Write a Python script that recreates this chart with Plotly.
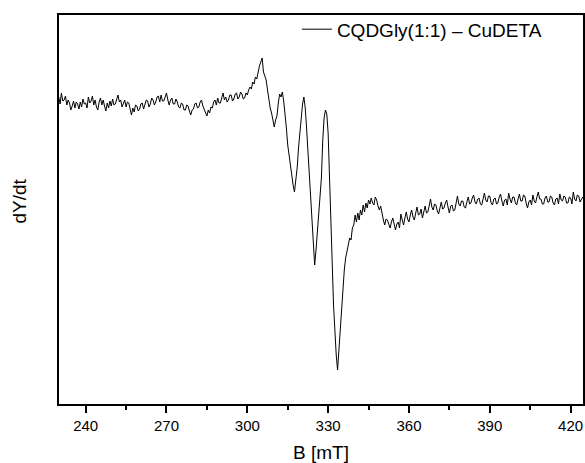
import plotly.graph_objects as go

# EPR spectrum, CQDGly(1:1) - CuDETA; field in mT, signal in arbitrary units
b_low = [230.0, 230.5, 231.0, 231.5, 232.0, 232.5, 233.0, 233.5, 234.0, 234.5,
         235.0, 235.5, 236.0, 236.5, 237.0, 237.5, 238.0, 238.5, 239.0, 239.5,
         240.0, 240.5, 241.0, 241.5, 242.0, 242.5, 243.0, 243.5, 244.0, 244.5,
         245.0, 245.5, 246.0, 246.5, 247.0, 247.5, 248.0, 248.5, 249.0, 249.5,
         250.0, 250.5, 251.0, 251.5, 252.0, 252.5, 253.0, 253.5, 254.0, 254.5,
         255.0, 255.5, 256.0, 256.5, 257.0, 257.5, 258.0, 258.5, 259.0, 259.5,
         260.0, 260.5, 261.0, 261.5, 262.0, 262.5, 263.0, 263.5, 264.0, 264.5,
         265.0, 265.5, 266.0, 266.5, 267.0, 267.5, 268.0, 268.5, 269.0, 269.5,
         270.0, 270.5, 271.0, 271.5, 272.0, 272.5, 273.0, 273.5, 274.0, 274.5,
         275.0, 275.5, 276.0, 276.5, 277.0, 277.5, 278.0, 278.5, 279.0, 279.5,
         280.0, 280.5, 281.0, 281.5, 282.0, 282.5, 283.0, 283.5, 284.0, 284.5,
         285.0, 285.5, 286.0, 286.5, 287.0, 287.5, 288.0, 288.5, 289.0, 289.5,
         290.0, 290.5, 291.0, 291.5, 292.0, 292.5, 293.0, 293.5, 294.0, 294.5,
         295.0, 295.5, 296.0, 296.5, 297.0, 297.5, 298.0, 298.5, 299.0, 299.5]
s_low = [303, 296, 307, 299, 300, 304, 295, 300, 297, 290,
         294, 299, 292, 298, 296, 291, 298, 293, 301, 296,
         297, 292, 303, 297, 299, 304, 295, 300, 293, 290,
         298, 302, 295, 300, 294, 289, 297, 292, 299, 294,
         301, 295, 296, 300, 305, 298, 300, 293, 296, 300,
         293, 298, 297, 291, 285, 292, 288, 295, 294, 289,
         291, 296, 297, 291, 295, 300, 299, 293, 296, 302,
         300, 295, 298, 303, 304, 298, 305, 299, 299, 304,
         307, 300, 295, 300, 302, 296, 296, 301, 298, 293,
         292, 297, 296, 290, 290, 295, 294, 289, 285, 290,
         291, 296, 297, 292, 293, 298, 300, 294, 290, 286,
         284, 290, 287, 293, 292, 298, 300, 295, 302, 297,
         297, 302, 307, 300, 303, 298, 300, 305, 305, 299,
         301, 306, 307, 301, 303, 308, 306, 301, 302, 307]

b_mid = [300.0, 300.5, 301.0, 301.5, 302.0, 302.5, 303.0, 303.5, 304.0, 304.5,
         305.0, 305.5, 306.0, 306.5, 307.0, 307.5, 308.0, 308.5, 309.0, 309.5,
         310.0, 310.5, 311.0, 311.5, 312.0, 312.5, 313.0, 313.5, 314.0, 314.5,
         315.0, 315.5, 316.0, 316.5, 317.0, 317.5, 318.0, 318.5, 319.0, 319.5,
         320.0, 320.5, 321.0, 321.5, 322.0, 322.5, 323.0, 323.5, 324.0, 324.5,
         325.0, 325.5, 326.0, 326.5, 327.0, 327.5, 328.0, 328.5, 329.0, 329.5,
         330.0, 330.5, 331.0, 331.5, 332.0, 332.5, 333.0, 333.5, 334.0, 334.5,
         335.0, 335.5, 336.0, 336.5, 337.0, 337.5, 338.0, 338.5, 339.0, 339.5,
         340.0, 340.5, 341.0, 341.5, 342.0, 342.5, 343.0, 343.5, 344.0, 344.5,
         345.0]
s_mid = [305, 310, 313, 311, 318, 316, 323, 321, 330, 334,
         338, 342, 328, 324, 320, 310, 300, 292, 287, 278,
         273, 280, 284, 297, 306, 303, 308, 299, 288, 272,
         255, 243, 235, 225, 215, 208, 220, 232, 252, 270,
         285, 296, 303, 292, 272, 248, 220, 195, 172, 155,
         135, 150, 168, 178, 200, 222, 260, 282, 290, 286,
         267, 230, 188, 138, 95, 65, 45, 30, 50, 70,
         95, 112, 130, 142, 148, 155, 162, 160, 172, 175,
         185, 178, 187, 180, 190, 185, 195, 188, 197, 192,
         200]

b_high = [345.5, 346.0, 346.5, 347.0, 347.5, 348.0, 348.5, 349.0, 349.5,
          350.0, 350.5, 351.0, 351.5, 352.0, 352.5, 353.0, 353.5, 354.0, 354.5,
          355.0, 355.5, 356.0, 356.5, 357.0, 357.5, 358.0, 358.5, 359.0, 359.5,
          360.0, 360.5, 361.0, 361.5, 362.0, 362.5, 363.0, 363.5, 364.0, 364.5,
          365.0, 365.5, 366.0, 366.5, 367.0, 367.5, 368.0, 368.5, 369.0, 369.5,
          370.0, 370.5, 371.0, 371.5, 372.0, 372.5, 373.0, 373.5, 374.0, 374.5,
          375.0, 375.5, 376.0, 376.5, 377.0, 377.5, 378.0, 378.5, 379.0, 379.5,
          380.0, 380.5, 381.0, 381.5, 382.0, 382.5, 383.0, 383.5, 384.0, 384.5,
          385.0, 385.5, 386.0, 386.5, 387.0, 387.5, 388.0, 388.5, 389.0, 389.5,
          390.0, 390.5, 391.0, 391.5, 392.0, 392.5, 393.0, 393.5, 394.0, 394.5,
          395.0, 395.5, 396.0, 396.5, 397.0, 397.5, 398.0, 398.5, 399.0, 399.5,
          400.0, 400.5, 401.0, 401.5, 402.0, 402.5, 403.0, 403.5, 404.0, 404.5,
          405.0, 405.5, 406.0, 406.5, 407.0, 407.5, 408.0, 408.5, 409.0, 409.5,
          410.0, 410.5, 411.0, 411.5, 412.0, 412.5, 413.0, 413.5, 414.0, 414.5,
          415.0, 415.5, 416.0, 416.5, 417.0, 417.5, 418.0, 418.5, 419.0, 419.5,
          420.0, 420.5, 421.0, 421.5, 422.0, 422.5, 423.0, 423.5, 424.0, 424.5]
s_high = [196, 202, 197, 195, 203, 200, 194, 190, 194,
          185, 180, 175, 181, 180, 175, 172, 178, 182, 176,
          170, 176, 178, 172, 186, 180, 175, 182, 188, 181,
          178, 185, 190, 183, 180, 187, 193, 185, 186, 191,
          182, 188, 194, 187, 188, 194, 201, 193, 190, 196,
          195, 189, 186, 192, 198, 191, 192, 197, 200, 193,
          187, 194, 195, 189, 190, 197, 204, 196, 194, 199,
          199, 193, 192, 198, 203, 196, 197, 202, 205, 198,
          196, 201, 202, 196, 195, 201, 207, 200, 198, 204,
          204, 197, 195, 201, 202, 196, 197, 203, 206, 199,
          194, 200, 201, 195, 207, 201, 197, 203, 203, 197,
          195, 201, 206, 199, 199, 205, 204, 197, 192, 198,
          200, 195, 205, 199, 197, 203, 208, 201, 201, 196,
          196, 202, 204, 198, 198, 204, 203, 197, 195, 201,
          202, 196, 206, 200, 199, 204, 203, 197, 197, 203,
          202, 196, 208, 201, 199, 205, 204, 198, 200, 203]

field = b_low + b_mid + b_high
signal = s_low + s_mid + s_high

FONT = "Liberation Sans, Arial, sans-serif"

fig = go.Figure(go.Scatter(
    x=field,
    y=signal,
    mode='lines',
    line=dict(color='black', width=1),
    name='CQDGly(1:1) \u2013 CuDETA',
    showlegend=True
))

fig.update_layout(
    width=585,
    height=463,
    margin=dict(l=59, r=2, t=15, b=59),
    plot_bgcolor='white',
    paper_bgcolor='white',
    font=dict(family=FONT, color='black'),
    showlegend=True,
    legend=dict(
        x=0.454, y=1.012, xanchor='left', yanchor='top',
        bgcolor='rgba(0,0,0,0)', borderwidth=0,
        font=dict(size=19, family=FONT, color='black')
    ),
    xaxis=dict(
        range=[230.1, 424.6],
        tickvals=[240, 270, 300, 330, 360, 390, 420],
        ticks='outside', ticklen=7, tickwidth=1.5, tickcolor='black',
        minor=dict(tickvals=[255, 285, 315, 345, 375, 405],
                   ticks='outside', ticklen=4, tickwidth=1.5, tickcolor='black'),
        showline=True, linecolor='black', linewidth=1.5, mirror=True,
        showgrid=False, zeroline=False, automargin=False,
        tickfont=dict(size=15)
    ),
    yaxis=dict(
        range=[-4, 385],
        showticklabels=False, ticks='',
        showline=True, linecolor='black', linewidth=1.5, mirror=True,
        showgrid=False, zeroline=False, automargin=False
    ),
    annotations=[
        dict(text='B [mT]', xref='paper', yref='paper', x=0.5, y=0,
             xanchor='center', yanchor='middle', yshift=-48,
             showarrow=False, font=dict(size=19)),
        dict(text='dY/dt', xref='paper', yref='paper', x=0, y=0.5,
             xanchor='center', yanchor='middle', xshift=-40, yshift=8,
             textangle=-90, showarrow=False, font=dict(size=19)),
    ]
)

# the page body has a default 8px margin; drop it so the figure sits at (0, 0)
fig.write_html("out.html", config={'displayModeBar': False},
               post_script="document.body.style.margin = '0';")
